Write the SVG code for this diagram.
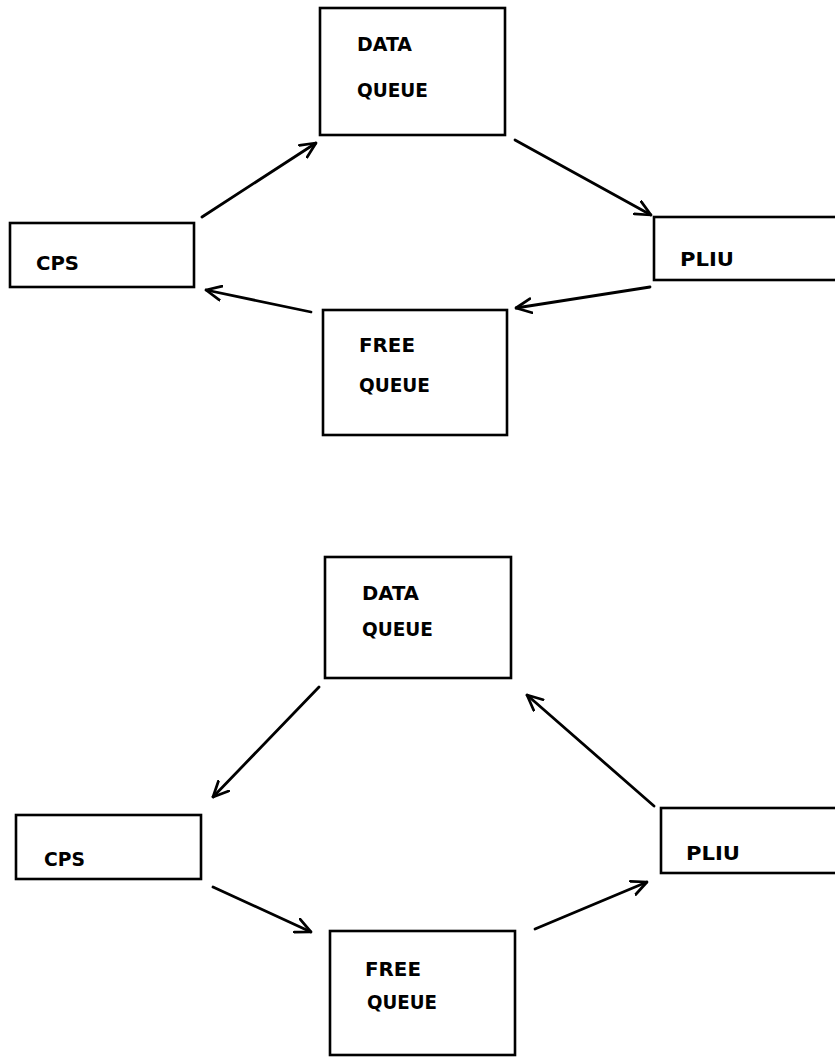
<svg xmlns="http://www.w3.org/2000/svg" width="835" height="1057" viewBox="0 0 835 1057">
  <style>
    .box { fill: #ffffff; stroke: #000000; stroke-width: 2.6; }
    .lbl { font-family: "DejaVu Sans", "Liberation Sans", sans-serif; font-weight: bold; font-size: 19px; fill: #000000; }
    .edge { fill: none; stroke: #000000; stroke-width: 2.8; stroke-linecap: round; marker-end: url(#head); }
  </style>
  <defs>
    <marker id="head" viewBox="0 0 10 10" refX="9.5" refY="5" markerWidth="17" markerHeight="17" markerUnits="userSpaceOnUse" orient="auto">
      <path d="M0.5,0.8 L9.5,5 L0.5,9.2" fill="none" stroke="#000000" stroke-width="1.6" stroke-linecap="round" stroke-linejoin="round"/>
    </marker>
  </defs>
  <rect width="835" height="1057" fill="#ffffff"/>

  <!-- upper cycle -->
  <g id="top-data-queue">
    <rect class="box" x="320" y="8" width="185" height="127"/>
    <text class="lbl" x="357" y="51" textLength="55" lengthAdjust="spacingAndGlyphs">DATA</text>
    <text class="lbl" x="357" y="97" textLength="71" lengthAdjust="spacingAndGlyphs">QUEUE</text>
  </g>
  <g id="top-cps">
    <rect class="box" x="10" y="223" width="184" height="64"/>
    <text class="lbl" x="36" y="270" textLength="43" lengthAdjust="spacingAndGlyphs">CPS</text>
  </g>
  <g id="top-pliu">
    <rect class="box" x="654" y="217" width="190" height="63"/>
    <text class="lbl" x="680" y="266" textLength="54" lengthAdjust="spacingAndGlyphs">PLIU</text>
  </g>
  <g id="top-free-queue">
    <rect class="box" x="323" y="310" width="184" height="125"/>
    <text class="lbl" x="359" y="352" textLength="56" lengthAdjust="spacingAndGlyphs">FREE</text>
    <text class="lbl" x="359" y="392" textLength="71" lengthAdjust="spacingAndGlyphs">QUEUE</text>
  </g>

  <!-- lower cycle -->
  <g id="bottom-data-queue">
    <rect class="box" x="325" y="557" width="186" height="121"/>
    <text class="lbl" x="362" y="600" textLength="57" lengthAdjust="spacingAndGlyphs">DATA</text>
    <text class="lbl" x="362" y="636" textLength="71" lengthAdjust="spacingAndGlyphs">QUEUE</text>
  </g>
  <g id="bottom-cps">
    <rect class="box" x="16" y="815" width="185" height="64"/>
    <text class="lbl" x="44" y="866" textLength="41" lengthAdjust="spacingAndGlyphs">CPS</text>
  </g>
  <g id="bottom-pliu">
    <rect class="box" x="661" y="808" width="183" height="65"/>
    <text class="lbl" x="686" y="860" textLength="54" lengthAdjust="spacingAndGlyphs">PLIU</text>
  </g>
  <g id="bottom-free-queue">
    <rect class="box" x="330" y="931" width="185" height="124"/>
    <text class="lbl" x="365" y="976" textLength="56" lengthAdjust="spacingAndGlyphs">FREE</text>
    <text class="lbl" x="367" y="1009" textLength="70" lengthAdjust="spacingAndGlyphs">QUEUE</text>
  </g>

  <g id="connectors">
    <!-- upper: CPS -> DATA -> PLIU -> FREE -> CPS -->
    <line class="edge" x1="202" y1="217" x2="316" y2="143"/>
    <line class="edge" x1="515" y1="140" x2="651" y2="215"/>
    <line class="edge" x1="650" y1="287" x2="516" y2="308"/>
    <line class="edge" x1="311" y1="312" x2="206" y2="290"/>
    <!-- lower: DATA -> CPS -> FREE -> PLIU -> DATA -->
    <line class="edge" x1="319" y1="687" x2="213" y2="797"/>
    <line class="edge" x1="213" y1="887" x2="311" y2="932"/>
    <line class="edge" x1="535" y1="929" x2="647" y2="882"/>
    <line class="edge" x1="654" y1="806" x2="527" y2="695"/>
  </g>
</svg>
